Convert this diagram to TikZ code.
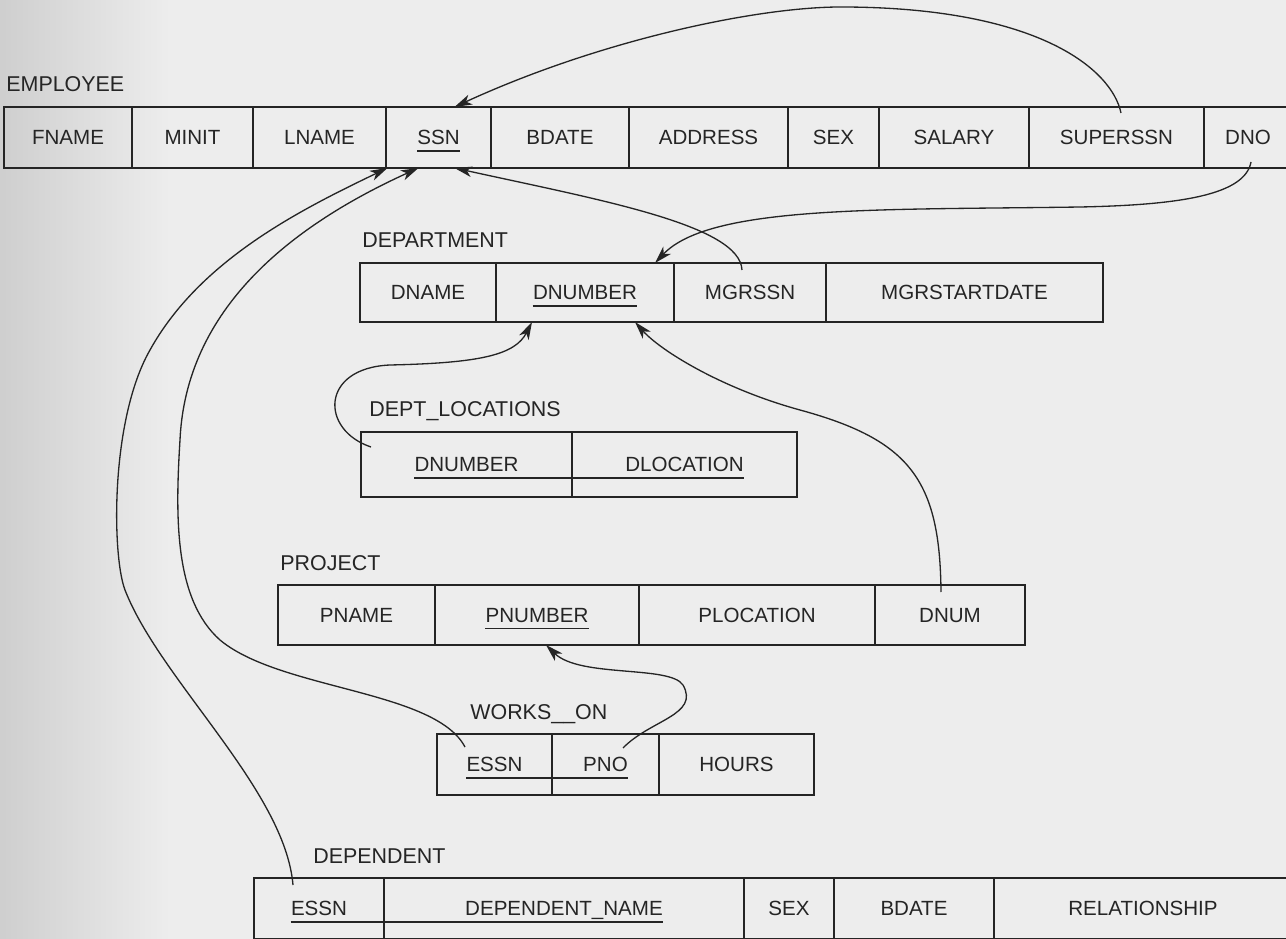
\documentclass[tikz,border=0pt]{standalone}
\usepackage{fontspec}
\setmainfont{Liberation Sans}
\usetikzlibrary{arrows.meta,fit,calc}
\definecolor{ink}{HTML}{252525}
\definecolor{paper}{HTML}{EDEDED}
\newcommand{\relcell}[6]{%
  \node[cellbox, fit={(#2,#4) (#3,#5)}] (#1) {};
  \node[celltext] (#1-t) at (#1.center) {#6};}
\newcommand{\keyline}[2]{%
  \draw[keyrule] ($(#1.base west)+(0,6)$) -- ($(#2.base east)+(0,6)$);}
\begin{document}
\begin{tikzpicture}[x=0.02cm,y=-0.02cm,
  cellbox/.style={draw=ink, line width=0.8pt, inner sep=0pt, outer sep=0pt},
  celltext/.style={inner sep=0pt, text=ink, font=\fontsize{11.7pt}{13pt}\selectfont, text height=8.4pt, text depth=0pt},
  rellabel/.style={inner sep=0pt, anchor=base west, text=ink, font=\fontsize{12.2pt}{14pt}\selectfont},
  keyrule/.style={draw=ink, line width=0.8pt},
  fk/.style={draw=ink, line width=0.75pt, -{Stealth[length=10pt,width=6pt,inset=2.8pt]}}]
\useasboundingbox (0,0) rectangle (1286,939);
\fill[paper] (0,0) rectangle (1286,939);
\shade[left color=gray!38, right color=paper] (0,0) rectangle (170,939);

% EMPLOYEE
\node[rellabel] (lemp) at (6,92) {EMPLOYEE};
\relcell{efname}{4}{132}{107}{168}{FNAME}
\relcell{eminit}{132}{253}{107}{168}{MINIT}
\relcell{elname}{253}{386}{107}{168}{LNAME}
\relcell{essn}{386}{491}{107}{168}{SSN}
\relcell{ebdate}{491}{629}{107}{168}{BDATE}
\relcell{eaddr}{629}{788}{107}{168}{ADDRESS}
\relcell{esex}{788}{879}{107}{168}{SEX}
\relcell{esal}{879}{1029}{107}{168}{SALARY}
\relcell{esuper}{1029}{1204}{107}{168}{SUPERSSN}
\relcell{edno}{1204}{1292}{107}{168}{DNO}
\keyline{essn-t}{essn-t}

% DEPARTMENT
\node[rellabel] (ldept) at (362,248) {DEPARTMENT};
\relcell{ddname}{360}{496}{263}{322}{DNAME}
\relcell{ddnum}{496}{674}{263}{322}{DNUMBER}
\relcell{dmgr}{674}{826}{263}{322}{MGRSSN}
\relcell{dmgrdate}{826}{1103}{263}{322}{MGRSTARTDATE}
\keyline{ddnum-t}{ddnum-t}

% DEPT_LOCATIONS
\node[rellabel] (lloctab) at (369,417) {DEPT\_LOCATIONS};
\relcell{ldnum}{361}{572}{432}{497}{DNUMBER}
\relcell{lloc}{572}{797}{432}{497}{DLOCATION}
\keyline{ldnum-t}{lloc-t}

% PROJECT
\node[rellabel] (lproj) at (280,570) {PROJECT};
\relcell{pname}{278}{435}{585}{645}{PNAME}
\relcell{pnum}{435}{639}{585}{645}{PNUMBER}
\relcell{ploc}{639}{875}{585}{645}{PLOCATION}
\relcell{pdnum}{875}{1025}{585}{645}{DNUM}
\keyline{pnum-t}{pnum-t}

% WORKS_ON
\node[rellabel] (lworks) at (470,719) {WORKS\_\_ON};
\relcell{wessn}{437}{552}{734}{795}{ESSN}
\relcell{wpno}{552}{659}{734}{795}{PNO}
\relcell{whours}{659}{814}{734}{795}{HOURS}
\keyline{wessn-t}{wpno-t}

% DEPENDENT
\node[rellabel] (ldep) at (313,863) {DEPENDENT};
\relcell{depessn}{254}{384}{878}{939}{ESSN}
\relcell{depname}{384}{744}{878}{939}{DEPENDENT\_NAME}
\relcell{depsex}{744}{834}{878}{939}{SEX}
\relcell{depbdate}{834}{994}{878}{939}{BDATE}
\relcell{deprel}{994}{1292}{878}{939}{RELATIONSHIP}
\keyline{depessn-t}{depname-t}

% foreign keys
\draw[fk] ($(esuper.north)+(4.5,6)$) .. controls (1112,70) and (1040,8) .. (845,7)
  .. controls (760,6) and (600,40) .. ($(essn.north)+(16,0)$);
\draw[fk] ($(edno.south)+(3,-6)$) .. controls (1245,195) and (1180,205) .. (1080,207)
  .. controls (880,210) and (710,205) .. ($(ddnum.north east)+(-19,0)$);
\draw[fk] ($(dmgr.north)+(-8,7)$) .. controls (740,225) and (600,200) .. ($(essn.south)+(16,0)$);
\draw[fk] ($(ldnum.north west)+(10,15)$) .. controls (320,430) and (320,368) .. (390,365)
  .. controls (480,363) and (515,355) .. ($(ddnum.south)+(-53,0)$);
\draw[fk] ($(pdnum.north)+(-9,7)$) .. controls (940,480) and (910,440) .. (800,410)
  .. controls (720,388) and (660,350) .. ($(ddnum.south)+(50,0)$);
\draw[fk] ($(wpno.north)+(17.5,14)$) .. controls (650,720) and (700,715) .. (683,685)
  .. controls (670,665) and (580,678) .. ($(pnum.south)+(9,0)$);
\draw[fk] ($(wessn.north)+(-29.5,13)$) .. controls (435,690) and (280,690) .. (220,640)
  .. controls (175,600) and (175,520) .. (180,440)
  .. controls (185,330) and (260,240) .. ($(essn.south)+(-20,0)$);
\draw[fk] ($(depessn.north)+(-26,7)$) .. controls (285,790) and (160,680) .. (125,590)
  .. controls (112,556) and (110,420) .. (150,350)
  .. controls (200,260) and (300,210) .. ($(essn.south)+(-51,0)$);
\end{tikzpicture}
\end{document}
